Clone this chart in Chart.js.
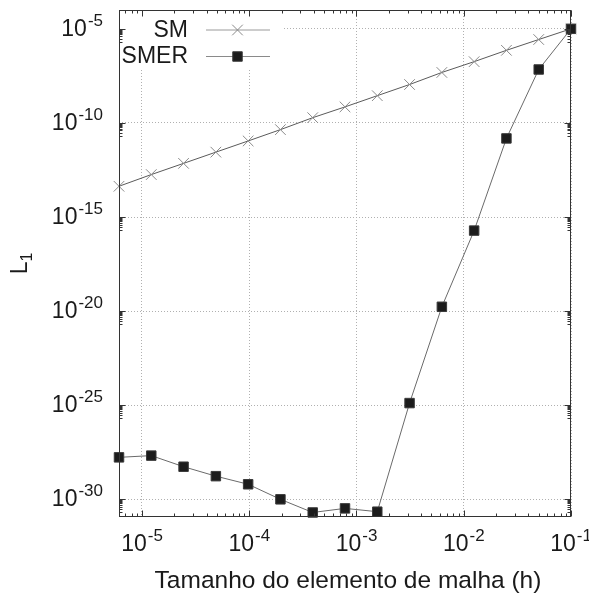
<!DOCTYPE html>
<html><head><meta charset="utf-8">
<script src="https://cdn.jsdelivr.net/npm/chart.js@4"></script>
<style>html,body{margin:0;padding:0;background:#fff;}</style>
</head><body>
<canvas id="c" width="589" height="598" style="width:589px;height:598px;display:block"></canvas>
<script>
// ---- data ----
const seriesNames = ['SM', 'SMER'];
const hValues = [0.1, 0.05, 0.025, 0.0125, 0.00625, 0.003125, 0.0015625, 0.00078125,
  0.000390625, 0.0001953125, 0.00009765625, 0.000048828125, 0.0000244140625,
  0.00001220703125, 0.000006103515625];
const smValues = [1e-5, 2.7e-6, 7.2e-7, 1.8e-7, 4.8e-8, 1.1e-8, 2.8e-9, 7.1e-10,
  1.9e-10, 4.4e-11, 1.1e-11, 2.8e-12, 7.1e-13, 1.8e-13, 4.3e-14];
const smerValues = [1e-5, 6.9e-8, 1.5e-11, 1.9e-16, 1.7e-20, 1.3e-25, 2.2e-31, 3.3e-31,
  2.0e-31, 1.0e-30, 6.3e-30, 1.7e-29, 5.4e-29, 2.1e-28, 1.7e-28];
const xTickValues = [1e-5, 1e-4, 1e-3, 1e-2, 1e-1];
const xTickExponents = ['-5', '-4', '-3', '-2', '-1'];
const yTickValues = [1e-30, 1e-25, 1e-20, 1e-15, 1e-10, 1e-5];
const yTickExponents = ['-30', '-25', '-20', '-15', '-10', '-5'];
const xTitle = 'Tamanho do elemento de malha (h)';
const yTitleMain = 'L';
const yTitleSub = '1';

const FONT = '"Liberation Sans", Arial, Helvetica, sans-serif';
const toPoints = (ys) => hValues.map((h, i) => ({x: h, y: ys[i]}));

function drawPow(ctx, exp, x, y, align) {
  ctx.font = '23px ' + FONT; const w1 = ctx.measureText('10').width;
  ctx.font = '17px ' + FONT; const w2 = ctx.measureText(exp).width;
  const total = w1 + 1 + w2;
  const x0 = align === 'right' ? x - total : (align === 'center' ? x - total / 2 : x);
  ctx.textAlign = 'left'; ctx.textBaseline = 'alphabetic';
  ctx.font = '23px ' + FONT; ctx.fillText('10', x0, y);
  ctx.font = '17px ' + FONT; ctx.fillText(exp, x0 + w1 + 1, y - 10);
}

const legendPlugin = {
  id: 'gpLegend',
  afterDatasetsDraw(chart) {
    const ctx = chart.ctx, a = chart.chartArea;
    ctx.save();
    ctx.fillStyle = '#fff';
    ctx.fillRect(a.left + 1, a.top + 1, 163, 57);
    const rows = [29.5, 56];
    chart.data.datasets.forEach((ds, i) => {
      const y = rows[i];
      ctx.fillStyle = '#1a1a1a';
      ctx.font = '23px ' + FONT; ctx.textAlign = 'right'; ctx.textBaseline = 'middle';
      ctx.fillText(ds.label, 188, y + 1);
      ctx.strokeStyle = ds.legendLineColor; ctx.lineWidth = 1;
      ctx.beginPath(); ctx.moveTo(206, y + 0.5); ctx.lineTo(270, y + 0.5); ctx.stroke();
      ctx.fillStyle = ds.pointBackgroundColor; ctx.strokeStyle = ds.pointBorderColor;
      ctx.lineWidth = ds.pointBorderWidth;
      Chart.helpers.drawPoint(ctx, {pointStyle: ds.pointStyle, radius: ds.pointRadius,
        borderWidth: ds.pointBorderWidth, rotation: 0}, 237.5, y + 0.5);
    });
    ctx.restore();
  },
  afterDraw(chart) {
    const ctx = chart.ctx, a = chart.chartArea;
    const xs = chart.scales.x, ys = chart.scales.y;
    ctx.save();
    ctx.strokeStyle = '#333'; ctx.lineWidth = 1;
    const L = Math.round(a.left) + 0.5, R = Math.round(a.right) - 0.5;
    const T = Math.round(a.top) + 0.5, B = Math.round(a.bottom) - 0.5;
    ctx.beginPath();
    // x ticks (bottom & top)
    for (let k = -6; k <= -1; k++) {
      for (let m = 1; m <= 9; m++) {
        const v = m * Math.pow(10, k);
        if (v < xs.min * 0.999 || v > xs.max * 1.001) continue;
        const px = Math.round(xs.getPixelForValue(v)) + 0.5;
        const len = m === 1 ? 6 : 3;
        ctx.moveTo(px, B); ctx.lineTo(px, B - len);
        ctx.moveTo(px, T); ctx.lineTo(px, T + len);
      }
    }
    // y ticks (left & right)
    yTickValues.forEach((major) => {
      for (let m = 1; m <= 9; m++) {
        const v = m === 1 ? major : m * major / 10;
        if (v < ys.min || v > ys.max) continue;
        const py = Math.round(ys.getPixelForValue(v)) + 0.5;
        const len = m === 1 ? 6 : 3;
        ctx.moveTo(L, py); ctx.lineTo(L + len, py);
        ctx.moveTo(R, py); ctx.lineTo(R - len, py);
      }
    });
    ctx.stroke();
    ctx.strokeRect(L, T, R - L, B - T);
    // tick labels
    ctx.fillStyle = '#1a1a1a';
    xTickValues.forEach((v, i) => {
      drawPow(ctx, xTickExponents[i], xs.getPixelForValue(v), a.bottom + 33.5, 'center');
    });
    yTickValues.forEach((v, i) => {
      drawPow(ctx, yTickExponents[i], 103, ys.getPixelForValue(v) + 7, 'right');
    });
    // axis titles
    ctx.font = '24.5px ' + FONT; ctx.textAlign = 'center'; ctx.textBaseline = 'alphabetic';
    ctx.fillText(xTitle, (a.left + a.right) / 2 + 3, 588);
    ctx.save();
    ctx.translate(27, (a.top + a.bottom) / 2);
    ctx.rotate(-Math.PI / 2);
    ctx.font = '23px ' + FONT; const wL = ctx.measureText(yTitleMain).width;
    ctx.font = '16px ' + FONT; const wS = ctx.measureText(yTitleSub).width;
    const x0 = -(wL + wS) / 2;
    ctx.textAlign = 'left';
    ctx.font = '23px ' + FONT; ctx.fillText(yTitleMain, x0, 0);
    ctx.font = '16px ' + FONT; ctx.fillText(yTitleSub, x0 + wL, 5);
    ctx.restore();
    ctx.restore();
  }
};

new Chart(document.getElementById('c'), {
  type: 'scatter',
  data: {
    datasets: [
      {
        label: seriesNames[0], data: toPoints(smValues), showLine: true, order: 1,
        borderColor: '#5a5a5a', borderWidth: 1, legendLineColor: '#9a9a9a',
        pointStyle: 'crossRot', pointRadius: 7.5, pointBorderColor: '#8a8a8a',
        pointBackgroundColor: '#8a8a8a', pointBorderWidth: 1, clip: false
      },
      {
        label: seriesNames[1], data: toPoints(smerValues), showLine: true, order: 0,
        borderColor: '#6a6a6a', borderWidth: 1, legendLineColor: '#8a8a8a',
        pointStyle: 'rect', pointRadius: 6.7, pointBorderColor: '#3a3a3a',
        pointBackgroundColor: '#1c1c1c', pointBorderWidth: 1, clip: false
      }
    ]
  },
  options: {
    responsive: false, animation: false, devicePixelRatio: 1, events: [],
    layout: {padding: {left: 119, right: 18, top: 10, bottom: 81}},
    plugins: {legend: {display: false}, tooltip: {enabled: false}},
    scales: {
      x: {
        type: 'logarithmic', min: 0.000006103515625, max: 0.1,
        afterBuildTicks: (s) => { s.ticks = xTickValues.map(v => ({value: v})); },
        ticks: {display: false},
        grid: {color: '#b0b0b0', lineWidth: 1, drawTicks: false},
        border: {display: false, dash: [1, 2]}
      },
      y: {
        type: 'logarithmic', min: 1.15e-31, max: 1e-4,
        afterBuildTicks: (s) => { s.ticks = yTickValues.map(v => ({value: v})); },
        ticks: {display: false},
        grid: {color: '#b0b0b0', lineWidth: 1, drawTicks: false},
        border: {display: false, dash: [1, 2]}
      }
    }
  },
  plugins: [legendPlugin]
});
</script>
</body></html>
